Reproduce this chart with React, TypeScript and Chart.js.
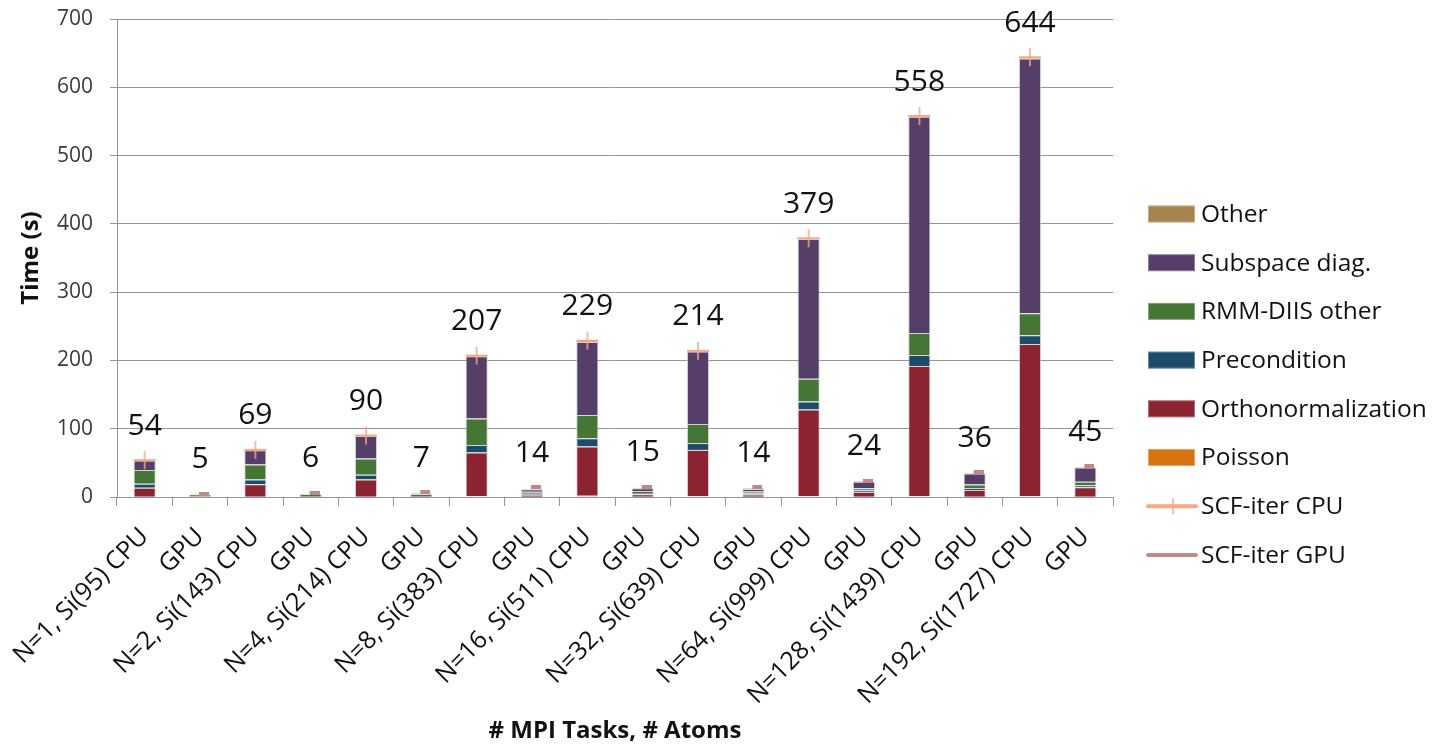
import React, { useEffect, useRef } from 'react';
import { Chart, registerables } from 'chart.js';

Chart.register(...registerables);

const categories = [
  'N=1, Si(95) CPU', 'GPU',
  'N=2, Si(143) CPU', 'GPU',
  'N=4, Si(214) CPU', 'GPU',
  'N=8, Si(383) CPU', 'GPU',
  'N=16, Si(511) CPU', 'GPU',
  'N=32, Si(639) CPU', 'GPU',
  'N=64, Si(999) CPU', 'GPU',
  'N=128, Si(1439) CPU', 'GPU',
  'N=192, Si(1727) CPU', 'GPU',
];

const poisson = [0.5, 0.1, 0.5, 0.1, 0.5, 0.1, 1, 0.2, 2, 0.2, 1, 0.2, 1, 0.3, 1, 0.3, 1, 0.3];
const orthonormalization = [13, 0.8, 18, 1, 25, 1, 64, 3, 72, 4, 68, 3.5, 127, 7, 191, 10, 223, 14];
const precondition = [6, 0.4, 7, 0.5, 7, 0.5, 11, 1.5, 12, 1.5, 10, 1.5, 12, 2.5, 16, 3, 13, 3];
const rmmDiisOther = [20, 2.2, 22, 2.5, 24, 2.8, 39, 3, 34, 3, 28, 3, 33, 3, 32, 5, 32, 5];
const subspaceDiag = [14, 0.3, 21, 0.5, 33, 0.5, 91, 3.5, 107, 4, 106, 3.5, 205, 9.5, 317, 16, 373, 21];
const other = [0.5, 0.2, 0.5, 0.5, 0.5, 0.7, 1, 1, 2, 1, 1, 1, 1, 1, 2, 1, 2, 1];

const scfIterCpu = [54, null, 69, null, 90, null, 207, null, 229, null, 214, null, 379, null, 558, null, 644, null];
const scfIterGpu = [null, 5, null, 6, null, 7, null, 14, null, 15, null, 14, null, 24, null, 36, null, 45];

const yTickValues = [0, 100, 200, 300, 400, 500, 600, 700];

const FONT = '"Open Sans", Lato, sans-serif';
const C_POISSON = '#D8730E';
const C_ORTHO = '#8C2331';
const C_PRECOND = '#1B4D6B';
const C_RMM = '#467635';
const C_SUBSPACE = '#553F69';
const C_OTHER = '#A6834F';
const C_CPU = '#F6A984';
const C_GPU = '#BF898B';
const GRID = '#959595';

function makeCrossMarker(): HTMLCanvasElement {
  const c = document.createElement('canvas');
  c.width = 24;
  c.height = 20;
  const g = c.getContext('2d')!;
  g.strokeStyle = C_CPU;
  g.lineWidth = 2;
  g.beginPath();
  g.moveTo(1, 10);
  g.lineTo(23, 10);
  g.stroke();
  g.lineWidth = 1.5;
  g.beginPath();
  g.moveTo(12, 1);
  g.lineTo(12, 19);
  g.stroke();
  return c;
}

function makeGpuMarker(): HTMLCanvasElement {
  const c = document.createElement('canvas');
  c.width = 18;
  c.height = 4;
  const g = c.getContext('2d')!;
  g.fillStyle = C_GPU;
  g.fillRect(8, 0, 10, 4);
  return c;
}

const valueLabelPlugin = {
  id: 'valueLabels',
  afterDatasetsDraw(chart: any) {
    const ctx = chart.ctx;
    const xs = chart.scales.x;
    const ys = chart.scales.y;
    ctx.save();
    ctx.font = `30px ${FONT}`;
    ctx.fillStyle = '#111';
    ctx.textAlign = 'center';
    ctx.textBaseline = 'middle';
    [scfIterCpu, scfIterGpu].forEach((arr) => {
      arr.forEach((v, i) => {
        if (v == null) return;
        const x = xs.getPixelForValue(i);
        const y = ys.getPixelForValue(v) - 34;
        ctx.fillText(String(v), x, y);
      });
    });
    ctx.restore();
  },
};

const legendPlugin = {
  id: 'sideLegend',
  afterDraw(chart: any) {
    const ctx = chart.ctx;
    const ds = chart.data.datasets;
    const items = [ds[5], ds[4], ds[3], ds[2], ds[1], ds[0], ds[6], ds[7]];
    const x0 = chart.chartArea.right + 35;
    const y0 = 206;
    const step = 48.7;
    ctx.save();
    ctx.font = `24.5px ${FONT}`;
    ctx.textBaseline = 'middle';
    ctx.textAlign = 'left';
    items.forEach((d: any, i: number) => {
      const cy = y0 + i * step;
      if (d.type === 'line') {
        ctx.strokeStyle = d.legendColor;
        ctx.lineCap = 'round';
        ctx.lineWidth = 4;
        ctx.beginPath();
        ctx.moveTo(x0, cy);
        ctx.lineTo(x0 + 48, cy);
        ctx.stroke();
        if (d.legendTick) {
          ctx.lineWidth = 1.5;
          ctx.lineCap = 'butt';
          ctx.beginPath();
          ctx.moveTo(x0 + 25, cy - 8);
          ctx.lineTo(x0 + 25, cy + 8);
          ctx.stroke();
        }
      } else {
        ctx.fillStyle = d.backgroundColor;
        ctx.fillRect(x0, cy - 8.5, 47, 17);
        ctx.strokeStyle = 'rgba(255,255,255,0.35)';
        ctx.lineWidth = 1;
        ctx.strokeRect(x0 + 0.5, cy - 8, 46, 16);
      }
      ctx.fillStyle = '#111';
      ctx.fillText(d.label, x0 + 53, cy + 1);
    });
    ctx.restore();
  },
};

export default function App() {
  const ref = useRef<HTMLCanvasElement>(null);

  useEffect(() => {
    const canvas = ref.current;
    if (!canvas) return;
    const cross = makeCrossMarker();
    const gpuMark = makeGpuMarker();
    const barBorder = 'rgba(205,195,205,0.75)';
    const bar = (label: string, data: number[], color: string) => ({
      type: 'bar' as const,
      label,
      data,
      backgroundColor: color,
      borderColor: barBorder,
      borderWidth: 1,
      stack: 's',
      order: 1,
      categoryPercentage: 1,
      barPercentage: 0.4,
    });
    const chart = new Chart(canvas, {
      type: 'bar',
      data: {
        labels: categories,
        datasets: [
          bar('Poisson', poisson, C_POISSON),
          bar('Orthonormalization', orthonormalization, C_ORTHO),
          bar('Precondition', precondition, C_PRECOND),
          bar('RMM-DIIS other', rmmDiisOther, C_RMM),
          bar('Subspace diag.', subspaceDiag, C_SUBSPACE),
          bar('Other', other, C_OTHER),
          {
            type: 'line',
            label: 'SCF-iter CPU',
            data: scfIterCpu,
            showLine: false,
            pointStyle: cross,
            pointRadius: 10,
            order: 0,
            stack: 'cpu',
            legendColor: C_CPU,
            legendTick: true,
          } as any,
          {
            type: 'line',
            label: 'SCF-iter GPU',
            data: scfIterGpu,
            showLine: false,
            pointStyle: gpuMark,
            pointRadius: 5,
            order: 0,
            stack: 'gpu',
            legendColor: C_GPU,
            legendTick: false,
          } as any,
        ],
      },
      options: {
        responsive: false,
        animation: false,
        events: [],
        layout: { padding: { top: 10, right: 323, left: 0, bottom: 0 } },
        plugins: {
          legend: { display: false },
          tooltip: { enabled: false },
        },
        scales: {
          x: {
            stacked: true,
            offset: true,
            grid: {
              display: true,
              drawOnChartArea: false,
              drawTicks: true,
              tickLength: 9,
              color: GRID,
              offset: true,
            },
            border: { display: true, color: GRID, width: 1 },
            ticks: {
              autoSkip: false,
              maxRotation: 45,
              minRotation: 45,
              padding: 16,
              color: '#111',
              font: { family: FONT, size: 25 },
            },
            title: {
              display: true,
              text: '# MPI Tasks, # Atoms',
              color: '#111',
              font: { family: FONT, size: 24, weight: 'bold' },
              padding: { top: 0, bottom: -4 },
            },
            afterFit(scale: any) {
              scale.height = 245;
              scale.paddingLeft = 0;
              scale.paddingRight = 0;
            },
          },
          y: {
            stacked: true,
            min: 0,
            max: 700,
            grid: {
              color: GRID,
              lineWidth: 1,
              tickLength: 7,
              drawTicks: true,
            },
            border: { display: true, color: GRID, width: 1 },
            ticks: {
              padding: 17,
              color: '#3a3a3a',
              font: { family: FONT, size: 21 },
            },
            afterBuildTicks(scale: any) {
              scale.ticks = yTickValues.map((v) => ({ value: v }));
            },
            title: {
              display: true,
              text: 'Time (s)',
              color: '#111',
              font: { family: FONT, size: 24, weight: 'bold' },
              padding: { top: 9, bottom: 0 },
            },
            afterFit(scale: any) {
              scale.width = 109;
              scale.paddingTop = 0;
              scale.paddingBottom = 0;
            },
          },
        },
      } as any,
      plugins: [valueLabelPlugin, legendPlugin],
    });
    return () => chart.destroy();
  }, []);

  return <canvas ref={ref} width={1428} height={734} style={{ display: 'block' }} />;
}
